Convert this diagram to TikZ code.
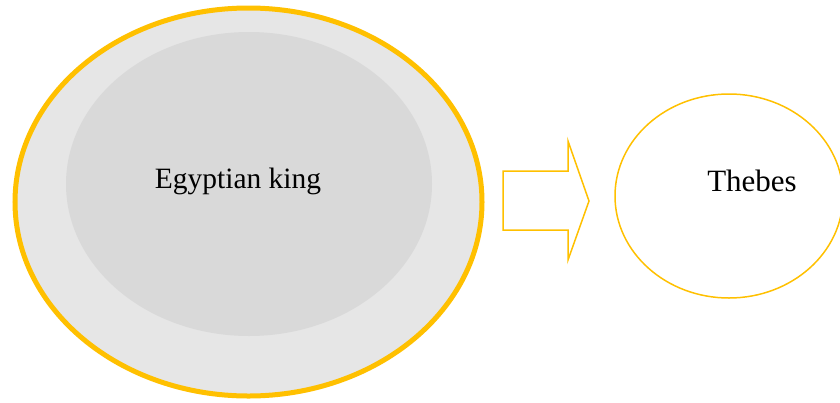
\documentclass[tikz,border=0pt]{standalone}
\usepackage{fontspec}
\setmainfont{Liberation Serif}
\usetikzlibrary{shapes.geometric}
\definecolor{gold}{HTML}{FFC000}
\definecolor{outerg}{HTML}{E6E6E6}
\definecolor{innerg}{HTML}{D9D9D9}
\tikzset{
  lbl/.style={anchor=base, font=\fontsize{29.5}{32}\selectfont, text=black, inner sep=0pt},
  thinline/.style={draw=gold, line width=1.5pt, line join=miter}
}
\begin{document}
\begin{tikzpicture}[x=1pt,y=-1pt]
\useasboundingbox (0,0) rectangle (840,402);
\clip (0,0) rectangle (840,402);
\draw[draw=gold, fill=outerg, line width=5pt] (248.5,202) ellipse [x radius=233.5, y radius=194];
\fill[innerg] (249,184) ellipse [x radius=183, y radius=152];
\node[lbl] (king) at (238,188) {Egyptian king};
\draw[thinline] (503,171) -- (568,171) -- (568,141) -- (589,201) -- (568,260) -- (568,230) -- (503,230) -- cycle;
\node[thinline, ellipse, minimum width=228pt, minimum height=204pt, inner sep=0pt] (thebesshape) at (729,196) {};
\node[lbl, font=\fontsize{31}{34}\selectfont] (thebes) at (752,191) {Thebes};
\end{tikzpicture}
\end{document}
